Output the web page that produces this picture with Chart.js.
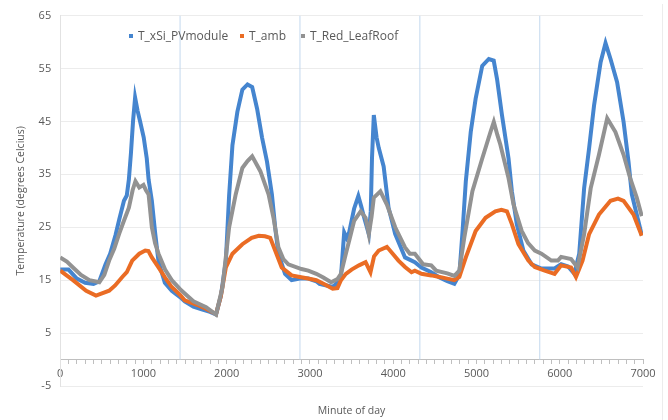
<!DOCTYPE html>
<html>
<head>
    <meta charset="UTF-8">
    <title>Temperature by minute of day</title>
    <script src="https://cdn.jsdelivr.net/npm/chart.js"></script>
    <style>
        body { margin: 0; background: #fff; font-family: "Open Sans", sans-serif; }
        .wrap { position: relative; width: 668px; height: 420px; }
        .legend { position: absolute; top: 28px; left: 0; font-size: 12px; color: #595959; }
        .legend span.item { position: absolute; white-space: nowrap; line-height: 15px; }
        .legend i { display: inline-block; width: 4px; height: 4px; margin-right: 5px; vertical-align: middle; position: relative; top: -1px; }
        .frame { position: absolute; left: 662px; top: 4px; width: 1px; height: 416px; background: #ececec; }
    </style>
</head>
<body>
<div class="wrap">
    <canvas id="tempChart" width="668" height="420"></canvas>
    <div class="legend">
        <span class="item" style="left:129px"><i style="background:#4585cf"></i>T_xSi_PVmodule</span>
        <span class="item" style="left:240px"><i style="background:#ea6c24"></i>T_amb</span>
        <span class="item" style="left:301px"><i style="background:#929292"></i>T_Red_LeafRoof</span>
    </div>
    <div class="frame"></div>
</div>

<script>
    // values (minute, degrees C)
    const pvMin = [0, 100, 200, 300, 400, 470, 545, 600, 664, 710, 766, 800, 825, 850, 875, 900, 930, 960, 1003, 1040, 1062, 1101, 1140, 1181, 1257, 1340, 1440, 1496, 1600, 1700, 1800, 1872,
        1930, 1990, 2029, 2069, 2128, 2188, 2250, 2306, 2365, 2424, 2484, 2543, 2582, 2621, 2701, 2780, 2878,
        2980, 3076, 3115, 3200, 3273, 3330, 3372, 3411, 3440, 3470, 3530, 3581, 3615, 3648, 3707, 3730, 3745, 3767, 3800, 3826, 3885, 3944, 4024, 4142, 4260, 4339,
        4457, 4556, 4650, 4734, 4794, 4833, 4872, 4931, 4990, 5069, 5148, 5207, 5247, 5306, 5385, 5425, 5484, 5563, 5662, 5780,
        5938, 6017, 6100, 6175, 6234, 6293, 6353, 6412, 6491, 6550, 6610, 6689, 6767, 6826, 6866, 6925, 6985];
    const pvTemp = [17, 17, 15.3, 14.5, 14.3, 14.8, 18, 20, 23.5, 26.5, 30, 31, 34, 39, 45, 49.5, 47, 45, 42, 38, 34, 30, 24, 18.5, 14.5, 13, 11.8, 11, 10, 9.5, 9, 8.5,
        12, 18.7, 31, 40.5, 46.8, 51, 52, 51.5, 47.4, 42, 37.4, 31.2, 25, 20, 16.2, 15, 15.3,
        15.3, 14.8, 14.3, 14, 13.7, 14.5, 15.6, 24, 23, 24, 28.5, 30.9, 29, 27, 23.7, 28, 38, 46.2, 42, 40, 36.5, 28.7, 23.7, 19.3, 18.4, 17.4,
        16.5, 15.5, 14.8, 14.3, 16, 24.3, 33.7, 43, 49.3, 55.5, 56.8, 56.5, 53, 46.2, 38, 31.8, 25.6, 20.6, 18, 17.2,
        17.2, 18, 17.6, 16.2, 20, 32.4, 40, 48, 56.2, 59.8, 56.8, 52.4, 44.9, 37.4, 31.2, 27.4, 23.5];

    const ambMin = [0, 154, 312, 430, 588, 660, 746, 800, 865, 950, 1022, 1060, 1101, 1181, 1260, 1340, 1440, 1496, 1595, 1650, 1750, 1872,
        1930, 1990, 2069, 2188, 2300, 2385, 2460, 2523, 2582, 2661, 2780, 2878,
        2977, 3076, 3180, 3273, 3330, 3372, 3431, 3500, 3589, 3668, 3727, 3770, 3826, 3924, 4063, 4142, 4220, 4260, 4339,
        4457, 4556, 4650, 4734, 4794, 4872, 4990, 5109, 5227, 5300, 5366, 5425, 5504, 5623, 5700, 5820,
        5938, 6017, 6136, 6195, 6274, 6353, 6471, 6610, 6700, 6767, 6886, 6985];
    const ambTemp = [16.8, 15, 13, 12.1, 13, 14, 15.6, 16.5, 18.7, 20, 20.6, 20.5, 19.3, 17.4, 15.5, 13.7, 12.2, 11.2, 10.6, 10.3, 9.6, 8.6,
        12, 17.4, 20, 21.8, 23, 23.4, 23.3, 23, 20.6, 17.4, 15.9, 15.6,
        15.3, 15, 14.2, 13.4, 13.5, 15, 16.2, 17, 17.8, 18.4, 16.5, 19.5, 20.6, 21.3, 18.7, 17.5, 16.5, 16.8, 16.2,
        15.9, 15.6, 15.3, 15, 15.6, 19.3, 24.3, 26.8, 28, 28.3, 28, 25.6, 21.8, 18.7, 17.5, 16.8,
        16.2, 17.8, 17.4, 15.6, 18.7, 23.7, 27.4, 30, 30.4, 30, 27.4, 23.4];

    const roofMin = [0, 80, 154, 250, 351, 470, 530, 588, 650, 707, 760, 825, 870, 904, 950, 1000, 1030, 1062, 1101, 1140, 1181, 1260, 1340, 1440, 1496, 1600, 1753, 1872,
        1950, 2029, 2108, 2188, 2250, 2306, 2404, 2503, 2562, 2621, 2680, 2740, 2898,
        2980, 3076, 3160, 3254, 3330, 3372, 3431, 3480, 3530, 3609, 3668, 3707, 3740, 3767, 3846, 3924, 4024, 4142, 4200, 4260, 4359,
        4457, 4516, 4650, 4734, 4794, 4853, 4951, 5069, 5168, 5208, 5250, 5287, 5385, 5445, 5543, 5620, 5701, 5780,
        5899, 5978, 6017, 6136, 6214, 6293, 6372, 6471, 6570, 6669, 6767, 6846, 6925, 6985];
    const roofTemp = [19.3, 18.5, 17.4, 16, 15, 14.6, 16, 18.7, 21, 23.7, 26, 28.7, 32, 33.7, 32.5, 33, 32, 31.2, 25, 22, 20, 17, 15, 13.3, 12.5, 11, 9.9, 8.5,
        13.7, 25, 31.2, 36.2, 37.5, 38.4, 35.6, 31.2, 26.8, 21.2, 19, 18, 17.1,
        16.8, 16.2, 15.5, 14.6, 15.2, 16.2, 20, 23, 26.2, 28, 26.8, 23.7, 27, 30.6, 31.8, 29.3, 25, 21.2, 20, 20, 18,
        17.8, 16.8, 16.3, 15.8, 16.8, 23, 31.8, 38, 43, 44.9, 42.5, 40.6, 34.3, 29.3, 24.3, 22, 20.6, 20,
        18.7, 18.7, 19.4, 19, 17.4, 23.7, 32.4, 38.7, 45.6, 43, 38.7, 34.3, 30.6, 27.1];

    // midnight markers
    const dayMarks = [1440, 2880, 4320, 5760];
    const yTicks = { min: -5, max: 65, step: 10 };

    function toPoints(xs, ys) {
        return xs.map((x, i) => ({ x: x, y: ys[i] }));
    }

    const series = (label, xs, ys, color, order) => ({
        label: label,
        data: toPoints(xs, ys),
        borderColor: color,
        backgroundColor: color,
        borderWidth: 4,
        pointRadius: 0,
        showLine: true,
        tension: 0,
        order: order
    });

    const datasets = [
        series('T_xSi_PVmodule', pvMin, pvTemp, '#4585cf', 3),
        series('T_amb', ambMin, ambTemp, '#ea6c24', 2),
        series('T_Red_LeafRoof', roofMin, roofTemp, '#929292', 1)
    ];
    dayMarks.forEach(d => {
        datasets.push({
            label: 'day',
            data: [{ x: d, y: 0 }, { x: d, y: yTicks.max }],
            borderColor: '#c3d8ee',
            borderWidth: 1,
            pointRadius: 0,
            showLine: true,
            order: 9
        });
    });

    Chart.defaults.font.family = '"Open Sans", sans-serif';
    Chart.defaults.font.size = 11;
    Chart.defaults.color = '#595959';

    new Chart(document.getElementById('tempChart'), {
        type: 'scatter',
        data: { datasets: datasets },
        options: {
            responsive: false,
            animation: false,
            // the x axis sits at y = 0 and takes no layout space, so the bottom padding sets the plot bottom
            layout: { padding: { left: 10, right: 25, top: 13, bottom: 34 } },
            plugins: {
                legend: { display: false },
                tooltip: { enabled: false }
            },
            scales: {
                x: {
                    type: 'linear',
                    min: 0,
                    max: 7000,
                    position: { y: 0 },
                    ticks: {
                        stepSize: 100,
                        autoSkip: false,
                        maxRotation: 0,
                        padding: 4,
                        callback: v => (v % 1000 === 0 ? String(v) : '')
                    },
                    grid: { drawOnChartArea: false, drawTicks: true, tickLength: 4, color: '#bfbfbf' },
                    border: { color: '#bfbfbf' },
                    title: { display: true, text: 'Minute of day', font: { size: 10.5 }, padding: { top: 20, bottom: 0 } }
                },
                y: {
                    min: yTicks.min,
                    max: yTicks.max,
                    ticks: { stepSize: yTicks.step, padding: 9 },
                    grid: { color: '#ececec', drawTicks: false },
                    border: { color: '#e2e2e2' },
                    title: { display: true, text: 'Temperature (degrees Celcius)', font: { size: 10.5 }, padding: { top: 5, bottom: 2 } }
                }
            }
        }
    });
</script>
</body>
</html>
